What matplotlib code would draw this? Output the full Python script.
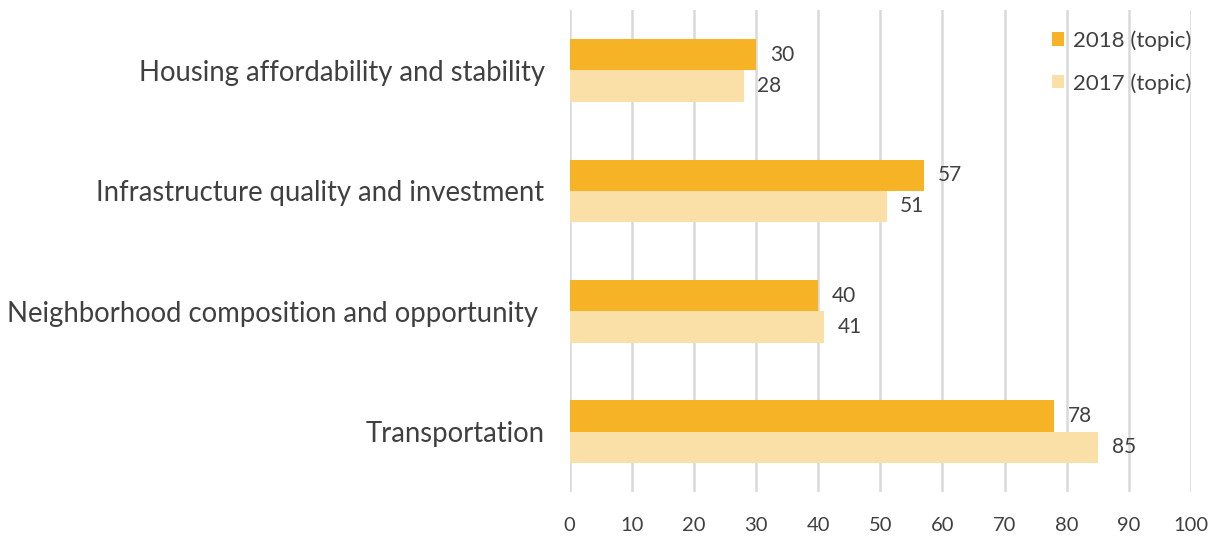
import numpy as np
import matplotlib
matplotlib.use("Agg")
import matplotlib.pyplot as plt

categories = [
    "Housing affordability and stability",
    "Infrastructure quality and investment",
    "Neighborhood composition and opportunity ",
    "Transportation",
]
values_2018 = [30, 57, 40, 78]
values_2017 = [28, 51, 41, 85]
series_labels = ["2018 (topic)", "2017 (topic)"]
colors = ["#F6B325", "#FAE0A7"]

plt.rcParams["font.family"] = ["Lato", "DejaVu Sans"]
text_color = "#404040"

fig = plt.figure(figsize=(12.17, 5.37), dpi=100)
ax = fig.add_axes([0.468, 0.084, 0.5107, 0.897])

y = np.arange(len(categories))
h = 0.26
b1 = ax.barh(y - h / 2, values_2018, h, color=colors[0], label=series_labels[0], zorder=2)
b2 = ax.barh(y + h / 2, values_2017, h, color=colors[1], label=series_labels[1], zorder=2)

for bars, vals in ((b1, values_2018), (b2, values_2017)):
    for bar, v in zip(bars, vals):
        ax.text(v + 2.2, bar.get_y() + bar.get_height() / 2, f"{v}",
                va="center", ha="left", fontsize=15, color=text_color)

ax.set_xlim(0, 100)
ax.set_ylim(3.5, -0.5)
ax.set_xticks(np.arange(0, 101, 10))
ax.set_yticks(y)
ax.set_yticklabels(categories, fontsize=19.8, color=text_color)
ax.tick_params(axis="x", labelsize=14.5, colors=text_color, length=0, pad=18)
ax.tick_params(axis="y", length=0, pad=18)
ax.grid(axis="x", color="#D9D9D9", linewidth=1.8, zorder=0)
for s in ax.spines.values():
    s.set_visible(False)

ax.legend(loc="upper right", bbox_to_anchor=(1.033, 1.0), frameon=False, fontsize=16,
          handlelength=0.55, handleheight=0.55, handletextpad=0.4, labelspacing=1.0,
          labelcolor=text_color)

fig.savefig("out.png", dpi=100)
